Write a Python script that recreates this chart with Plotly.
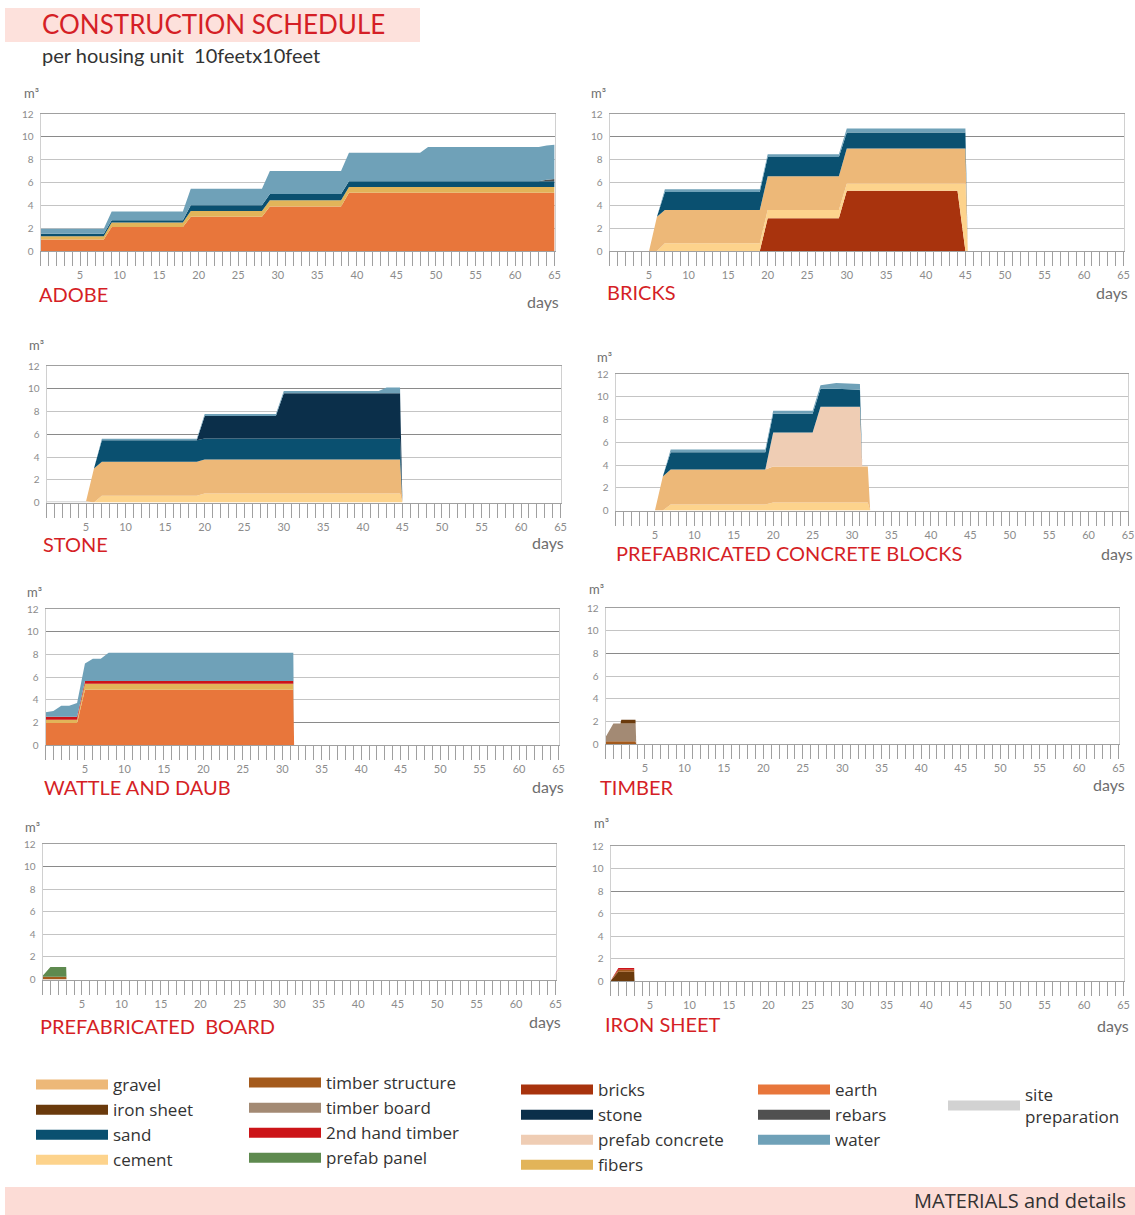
import plotly.graph_objects as go

W, H = 1135, 1215

# ---------------- colours per material ----------------
MATERIAL_COLORS = {
    "gravel": "#EDB878",
    "iron sheet": "#6A3A0C",
    "sand": "#0A5070",
    "cement": "#FDD38C",
    "timber structure": "#A45A1C",
    "timber board": "#A38A74",
    "2nd hand timber": "#CC1418",
    "prefab panel": "#5E8A4F",
    "bricks": "#A8330D",
    "stone": "#0B2F4A",
    "prefab concrete": "#EFCDB4",
    "fibers": "#E2B459",
    "earth": "#E8763B",
    "rebars": "#505050",
    "water": "#6FA1B8",
    "site preparation": "#D2D2D2",
}

LEGEND_LABELS = {"site preparation": "site<br>preparation"}

LEGEND_COLUMNS = [
    ["gravel", "iron sheet", "sand", "cement"],
    ["timber structure", "timber board", "2nd hand timber", "prefab panel"],
    ["bricks", "stone", "prefab concrete", "fibers"],
    ["earth", "rebars", "water"],
    ["site preparation"],
]

# ---------------- data (m3 per layer) ----------------
adobe_days   = [0, 8, 9, 18, 19, 28, 29, 38, 39, 48, 49, 63, 64, 65]
adobe_earth  = [1.0, 1.0, 2.1, 2.1, 3.0, 3.0, 3.9, 3.9, 5.1, 5.1, 5.1, 5.1, 5.1, 5.1]
adobe_fibers = [0.3, 0.3, 0.4, 0.4, 0.5, 0.5, 0.55, 0.55, 0.5, 0.5, 0.5, 0.5, 0.5, 0.5]
adobe_sand   = [0.2, 0.2, 0.2, 0.2, 0.5, 0.5, 0.55, 0.55, 0.5, 0.5, 0.5, 0.5, 0.5, 0.5]
adobe_rebars = [0, 0, 0, 0, 0, 0, 0, 0, 0, 0, 0, 0, 0.15, 0.2]
adobe_water  = [0.45, 0.45, 0.75, 0.75, 1.45, 1.45, 2.0, 2.0, 2.5, 2.5, 3.0, 3.0, 3.0, 3.0]

bricks_days   = [0, 5, 6, 7, 19, 20, 29, 30, 44, 45, 45.3, 65]
bricks_bricks = [0, 0, 0, 0, 0, 2.87, 2.87, 5.28, 5.28, 0, 0, 0]
bricks_cement = [0, 0, 0, 0.67, 0.67, 0.73, 0.73, 0.6, 0.6, 5.88, 0, 0]
bricks_gravel = [0, 0, 3.0, 2.93, 2.93, 2.94, 2.94, 3.1, 3.1, 3.1, 0, 0]
bricks_sand   = [0, 0, 0, 1.56, 1.56, 1.7, 1.7, 1.4, 1.4, 1.4, 0, 0]
bricks_water  = [0, 0, 0, 0.24, 0.24, 0.23, 0.23, 0.35, 0.35, 0.35, 0, 0]

stone_days   = [0, 5, 6, 7, 19, 20, 29, 30, 42, 43, 44.7, 45, 65]
stone_site   = [0.12, 0.12, 0, 0, 0, 0, 0, 0, 0, 0, 0, 0, 0]
stone_cement = [0, 0, 0, 0.59, 0.59, 0.8, 0.8, 0.8, 0.8, 0.8, 0.8, 0, 0]
stone_gravel = [0, 0, 3.0, 2.99, 2.99, 2.98, 2.98, 2.98, 2.98, 2.98, 2.98, 0, 0]
stone_sand   = [0, 0, 0, 1.9, 1.9, 1.85, 1.85, 1.85, 1.85, 1.85, 1.85, 0, 0]
stone_stone  = [0, 0, 0, 0, 0, 1.97, 1.97, 3.97, 3.97, 3.97, 3.97, 0, 0]
stone_water  = [0, 0, 0, 0.12, 0.12, 0.17, 0.17, 0.2, 0.2, 0.5, 0.5, 0, 0]

pcb_days    = [0, 5, 6, 7, 19, 20, 25, 26, 28, 31, 31.3, 32, 32.3, 65]
pcb_cement  = [0, 0, 0, 0.53, 0.53, 0.7, 0.7, 0.7, 0.7, 0.7, 0.7, 0.7, 0, 0]
pcb_gravel  = [0, 0, 3.0, 3.07, 3.07, 3.16, 3.16, 3.16, 3.16, 3.16, 3.16, 3.16, 0, 0]
pcb_prefab  = [0, 0, 0, 0, 0, 3.0, 3.0, 5.25, 5.25, 5.25, 0, 0, 0, 0]
pcb_sand    = [0, 0, 0, 1.53, 1.53, 1.64, 1.64, 1.6, 1.6, 1.5, 0, 0, 0, 0]
pcb_water   = [0, 0, 0, 0.24, 0.24, 0.26, 0.26, 0.3, 0.5, 0.5, 0, 0, 0, 0]

wattle_days   = [0, 1, 2, 3, 4, 5, 6, 7, 8, 31.4, 31.5, 65]
wattle_earth  = [1.94, 1.94, 1.94, 1.94, 1.94, 4.87, 4.87, 4.87, 4.87, 4.87, 0, 0]
wattle_fibers = [0.29, 0.29, 0.29, 0.29, 0.29, 0.53, 0.53, 0.53, 0.53, 0.53, 0, 0]
wattle_timber = [0.27, 0.27, 0.27, 0.27, 0.27, 0.25, 0.25, 0.25, 0.25, 0.25, 0, 0]
wattle_water  = [0.4, 0.5, 0.96, 0.96, 1.2, 1.55, 1.95, 1.95, 2.5, 2.5, 0, 0]

timber_days      = [0, 1, 1.9, 2, 3.8, 3.9, 65]
timber_structure = [0.25, 0.25, 0.25, 0.25, 0.25, 0, 0]
timber_board     = [0.35, 1.55, 1.55, 1.55, 1.55, 0, 0]
timber_iron      = [0, 0, 0, 0.35, 0.35, 0, 0]

board_days      = [0, 1, 3, 3.05, 65]
board_structure = [0.25, 0.25, 0.25, 0, 0]
board_panel     = [0.05, 0.85, 0.85, 0, 0]

iron_days      = [0, 1, 3, 3.05, 65]
iron_iron      = [0.0, 0.83, 0.83, 0, 0]
iron_structure = [0, 0.17, 0.17, 0, 0]
iron_timber    = [0, 0.15, 0.15, 0, 0]

x_tick_values = [5, 10, 15, 20, 25, 30, 35, 40, 45, 50, 55, 60, 65]
y_tick_values = [0, 2, 4, 6, 8, 10, 12]

panels = [
    dict(title="ADOBE", days=adobe_days,
         series=[("earth", adobe_earth), ("fibers", adobe_fibers), ("sand", adobe_sand),
                 ("rebars", adobe_rebars), ("water", adobe_water)],
         dark=[10]),
    dict(title="BRICKS", days=bricks_days,
         series=[("bricks", bricks_bricks), ("cement", bricks_cement), ("gravel", bricks_gravel),
                 ("sand", bricks_sand), ("water", bricks_water)],
         dark=[10]),
    dict(title="STONE", days=stone_days,
         series=[("site preparation", stone_site), ("cement", stone_cement), ("gravel", stone_gravel),
                 ("sand", stone_sand), ("stone", stone_stone), ("water", stone_water)],
         dark=[10, 6]),
    dict(title="PREFABRICATED CONCRETE BLOCKS", days=pcb_days,
         series=[("cement", pcb_cement), ("gravel", pcb_gravel), ("prefab concrete", pcb_prefab),
                 ("sand", pcb_sand), ("water", pcb_water)],
         dark=[]),
    dict(title="WATTLE AND DAUB", days=wattle_days,
         series=[("earth", wattle_earth), ("fibers", wattle_fibers),
                 ("2nd hand timber", wattle_timber), ("water", wattle_water)],
         dark=[10, 2]),
    dict(title="TIMBER", days=timber_days,
         series=[("timber structure", timber_structure), ("timber board", timber_board),
                 ("iron sheet", timber_iron)],
         dark=[8]),
    dict(title="PREFABRICATED  BOARD", days=board_days,
         series=[("timber structure", board_structure), ("prefab panel", board_panel)],
         dark=[10]),
    dict(title="IRON SHEET", days=iron_days,
         series=[("iron sheet", iron_iron), ("timber structure", iron_structure),
                 ("2nd hand timber", iron_timber)],
         dark=[8]),
]

# ---------------- layout geometry (pixels) ----------------
geom = [
    dict(x0=40.5, x1=554.6, yt=114, yb=251, title=(37, 294), days=(561, 301), m3=(31, 93)),
    dict(x0=609.5, x1=1123.6, yt=114, yb=251, title=(605, 292), days=(1130, 292), m3=(598, 93)),
    dict(x0=46.5, x1=560.6, yt=366, yb=502.5, title=(41, 544), days=(566, 543), m3=(36, 345)),
    dict(x0=615.5, x1=1128, yt=374, yb=510.5, title=(614, 553), days=(1135, 553), m3=(604, 357)),
    dict(x0=45.5, x1=558.5, yt=609, yb=745, title=(42, 787), days=(566, 786), m3=(34, 592)),
    dict(x0=605.5, x1=1118.5, yt=608, yb=744, title=(598, 787), days=(1127, 784), m3=(596, 589)),
    dict(x0=42.5, x1=555.5, yt=844, yb=979.5, title=(38, 1026), days=(563, 1021), m3=(32, 827)),
    dict(x0=610.5, x1=1123.5, yt=846, yb=981, title=(603, 1024), days=(1131, 1025), m3=(601, 823)),
]

legend_of = {}
rank_of = {}
for ci, col in enumerate(LEGEND_COLUMNS):
    for ri, m in enumerate(col):
        legend_of[m] = "legend" if ci == 0 else f"legend{ci + 1}"
        rank_of[m] = ri + 1

fig = go.Figure()
GRID = "#c4c4c4"
AXIS = "#a0a0a0"
TICKFONT = dict(family="Lato", size=11, color="#8c8c8c")

for i, (p, g) in enumerate(zip(panels, geom), start=1):
    xa = "x" if i == 1 else f"x{i}"
    ya = "y" if i == 1 else f"y{i}"
    for mat, vals in p["series"]:
        fig.add_trace(go.Scatter(
            x=p["days"], y=vals, xaxis=xa, yaxis=ya,
            mode="lines", stackgroup=f"s{i}", line=dict(width=0, shape="linear"),
            fillcolor=MATERIAL_COLORS[mat], name=mat, legendgroup=mat,
            showlegend=False, hoverinfo="x+y+name",
        ))
    xdom = [g["x0"] / W, g["x1"] / W]
    ydom = [1 - g["yb"] / H, 1 - g["yt"] / H]
    xkey = "xaxis" if i == 1 else f"xaxis{i}"
    ykey = "yaxis" if i == 1 else f"yaxis{i}"
    fig.layout[xkey] = dict(
        domain=xdom, range=[0, 65], anchor=ya, tickmode="array", tickvals=x_tick_values,
        ticks="outside", ticklen=14, tickwidth=1, tickcolor=AXIS,
        minor=dict(tickmode="linear", tick0=0, dtick=1, ticks="outside", ticklen=14,
                   tickwidth=1, tickcolor=AXIS, showgrid=False),
        showline=True, linecolor=AXIS, linewidth=1, mirror=True, automargin=False,
        showgrid=False, zeroline=False, tickfont=TICKFONT, fixedrange=True,
    )
    fig.layout[ykey] = dict(
        domain=ydom, range=[0, 12], anchor=xa, tickmode="array", tickvals=y_tick_values,
        showline=True, linecolor="#d0d0d0", linewidth=1, mirror=True, automargin=False,
        showgrid=True, gridcolor=GRID, gridwidth=1, zeroline=False,
        ticks="", tickfont=dict(family="Lato", size=10, color="#8c8c8c"),
        ticklabelstandoff=4, fixedrange=True,
    )
    if p["dark"]:
        ok = f"yaxis{8 + i}"
        fig.layout[ok] = dict(
            overlaying=ya, range=[0, 12], anchor=xa, tickmode="array", tickvals=p["dark"],
            showgrid=True, gridcolor="#8a8a8a", gridwidth=1, showticklabels=False,
            showline=False, zeroline=False, ticks="", fixedrange=True, automargin=False,
        )
        fig.add_trace(go.Scatter(x=[], y=[], xaxis=xa, yaxis=f"y{8 + i}",
                                 showlegend=False, hoverinfo="skip"))

    tx, ty = g["title"]
    fig.add_annotation(x=tx / W, y=1 - ty / H, xref="paper", yref="paper",
                       xanchor="left", yanchor="middle", showarrow=False,
                       text=p["title"], font=dict(family="Lato", size=20, color="#D51F26"))
    dx, dy = g["days"]
    fig.add_annotation(x=dx / W, y=1 - dy / H, xref="paper", yref="paper",
                       xanchor="right", yanchor="middle", showarrow=False,
                       text="days", font=dict(family="Lato", size=16, color="#6e6e6e"))
    mx, my = g["m3"]
    fig.add_annotation(x=mx / W, y=1 - my / H, xref="paper", yref="paper",
                       xanchor="center", yanchor="middle", showarrow=False,
                       text="m³", font=dict(family="Lato", size=13, color="#6e6e6e"))

# legend entries: one per material (no data of their own; they key the areas above)
for col in LEGEND_COLUMNS:
    for mat in col:
        fig.add_trace(go.Scatter(
            x=[None], y=[None], xaxis="x", yaxis="y", mode="lines",
            line=dict(color=MATERIAL_COLORS[mat], width=11),
            name=LEGEND_LABELS.get(mat, mat), legendgroup=mat, showlegend=True,
            legend=legend_of[mat], legendrank=rank_of[mat], hoverinfo="skip",
        ))

# header / footer
fig.add_shape(type="rect", xref="paper", yref="paper", x0=5 / W, x1=420 / W,
              y0=1 - 42 / H, y1=1 - 8 / H, fillcolor="#FDE1DC", line=dict(width=0), layer="below")
fig.add_shape(type="rect", xref="paper", yref="paper", x0=5 / W, x1=1,
              y0=0, y1=1 - 1187 / H, fillcolor="#FCDCD6", line=dict(width=0), layer="below")
fig.add_annotation(x=40 / W, y=1 - 24 / H, xref="paper", yref="paper", xanchor="left",
                   yanchor="middle", showarrow=False, text="CONSTRUCTION SCHEDULE",
                   font=dict(family="Lato", size=26, color="#D51F26"))
fig.add_annotation(x=40 / W, y=1 - 55 / H, xref="paper", yref="paper", xanchor="left",
                   yanchor="middle", showarrow=False, text="per housing unit  10feetx10feet",
                   font=dict(family="Lato", size=20, color="#333333"))
fig.add_annotation(x=1128 / W, y=1 - 1200 / H, xref="paper", yref="paper", xanchor="right",
                   yanchor="middle", showarrow=False, text="MATERIALS and details",
                   font=dict(family="Open Sans", size=20, color="#333333"))

legend_x = [31, 244, 516, 753, 943]
legend_y = [1067, 1065, 1072, 1072, 1077]
legend_style = dict(font=dict(family="Open Sans", size=17, color="#333333"),
                    bgcolor="rgba(0,0,0,0)", orientation="v", itemwidth=72, tracegroupgap=0,
                    xanchor="left", yanchor="top", traceorder="normal")
for ci in range(5):
    key = "legend" if ci == 0 else f"legend{ci + 1}"
    fig.layout[key] = dict(x=legend_x[ci] / W, y=1 - legend_y[ci] / H, **legend_style)

fig.update_layout(
    width=W, height=H, margin=dict(l=0, r=0, t=0, b=0, autoexpand=False),
    paper_bgcolor="white", plot_bgcolor="white", showlegend=True,
    hovermode="closest",
)

fig.write_html(
    "out.html",
    config={"displayModeBar": False},
    post_script="document.body.style.margin='0px';",
)
